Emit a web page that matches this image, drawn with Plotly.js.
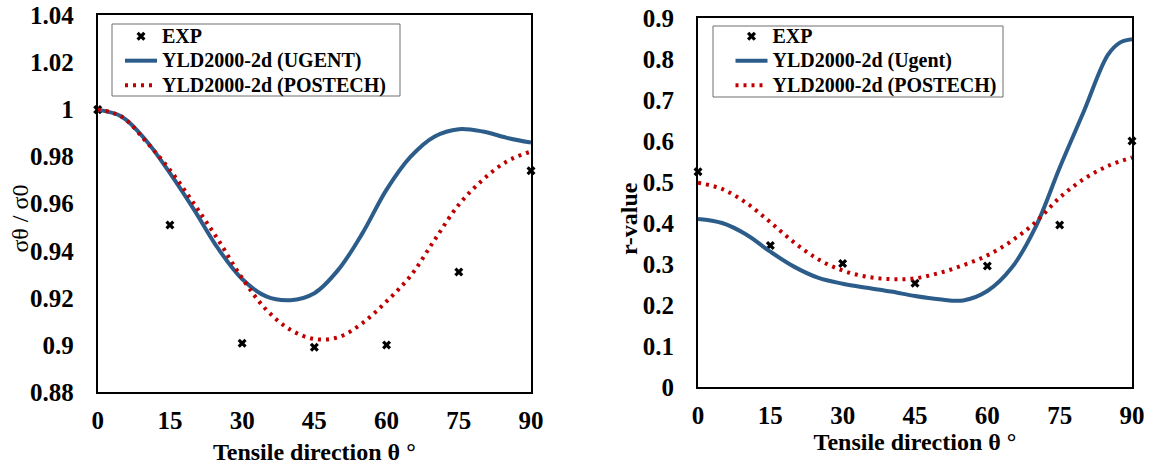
<!DOCTYPE html>
<html>
<head>
<meta charset="utf-8">
<script src="https://cdn.plot.ly/plotly-3.0.1.min.js"></script>
<style>html,body{margin:0;padding:0;background:#fff;}#chart{width:1150px;height:466px;}</style>
</head>
<body>
<div id="chart"></div>
<script>
// ---- data ----
const expAngles = [0, 15, 30, 45, 60, 75, 90];
const curveAngles = [0, 5, 10, 15, 20, 25, 30, 35, 40, 45, 50, 55, 60, 65, 70, 75, 80, 85, 90];
const rUgentAngles = [0, 5, 10, 15, 20, 25, 30, 35, 40, 45, 50, 55, 60, 65, 70, 75, 80, 85, 87.5, 90];

// Left: normalized yield stress
const stressExp = [1.000, 0.951, 0.9007, 0.899, 0.900, 0.931, 0.974];
const stressUgent = [1.000, 0.997, 0.987, 0.973, 0.9575, 0.941, 0.928, 0.9206, 0.919, 0.922, 0.932, 0.9475, 0.966, 0.980, 0.9886, 0.9917, 0.9907, 0.988, 0.986];
const stressPostech = [1.000, 0.997, 0.9865, 0.9744, 0.960, 0.9447, 0.9284, 0.915, 0.9065, 0.9025, 0.9033, 0.9093, 0.9185, 0.9294, 0.9447, 0.9596, 0.9702, 0.978, 0.9822];

// Right: r-value
const rExp = [0.525, 0.345, 0.301, 0.253, 0.295, 0.395, 0.600];
const rUgent = [0.410, 0.400, 0.372, 0.330, 0.293, 0.266, 0.252, 0.242, 0.233, 0.222, 0.214, 0.211, 0.234, 0.290, 0.390, 0.535, 0.672, 0.810, 0.840, 0.848];
const rPostech = [0.498, 0.483, 0.449, 0.402, 0.352, 0.311, 0.284, 0.269, 0.263, 0.265, 0.278, 0.297, 0.321, 0.356, 0.402, 0.462, 0.507, 0.539, 0.560];

// ticks
const xTickVals = [0, 15, 30, 45, 60, 75, 90];
const xTickText = ['0', '15', '30', '45', '60', '75', '90'];
const stressTickVals = [0.88, 0.90, 0.92, 0.94, 0.96, 0.98, 1.00, 1.02, 1.04];
const stressTickText = ['0.88', '0.9', '0.92', '0.94', '0.96', '0.98', '1', '1.02', '1.04'];
const rTickVals = [0, 0.1, 0.2, 0.3, 0.4, 0.5, 0.6, 0.7, 0.8, 0.9];
const rTickText = ['0', '0.1', '0.2', '0.3', '0.4', '0.5', '0.6', '0.7', '0.8', '0.9'];

const leftNames = ['EXP', 'YLD2000-2d (UGENT)', 'YLD2000-2d (POSTECH)'];
const rightNames = ['EXP', 'YLD2000-2d (Ugent)', 'YLD2000-2d (POSTECH)'];

// ---- styles ----
const FONT = 'Liberation Serif, Times New Roman, serif';
const BLUE = '#2C5C8A';
const RED = '#C00000';
const DOTS = '3px,5px';
const tickFont = {family: FONT, size: 25, color: '#000', weight: 'bold'};
const titleFont = {family: FONT, size: 24, color: '#000', weight: 'bold'};

function legName(s) { return '<span style="font-size:20px">' + s + '</span>'; }

function expTrace(x, y, name, xa, ya, leg) {
  return {x: x, y: y, name: legName(name), type: 'scatter', mode: 'markers', xaxis: xa, yaxis: ya, legend: leg,
    cliponaxis: false, marker: {symbol: 'x', size: 8, color: '#000'}};
}
function lineTrace(x, y, name, xa, ya, leg, color, dash) {
  return {x: x, y: y, name: legName(name), type: 'scatter', mode: 'lines', xaxis: xa, yaxis: ya, legend: leg,
    cliponaxis: false, line: {color: color, width: 4, dash: dash, shape: 'spline', smoothing: 1}};
}

const traces = [
  expTrace(expAngles, stressExp, leftNames[0], 'x', 'y', 'legend'),
  lineTrace(curveAngles, stressUgent, leftNames[1], 'x', 'y', 'legend', BLUE, 'solid'),
  lineTrace(curveAngles, stressPostech, leftNames[2], 'x', 'y', 'legend', RED, DOTS),
  expTrace(expAngles, rExp, rightNames[0], 'x2', 'y2', 'legend2'),
  lineTrace(rUgentAngles, rUgent, rightNames[1], 'x2', 'y2', 'legend2', BLUE, 'solid'),
  lineTrace(curveAngles, rPostech, rightNames[2], 'x2', 'y2', 'legend2', RED, DOTS)
];

function xAxis(domain, anchor, standoff) {
  return {domain: domain, anchor: anchor, range: [0, 90], tickmode: 'array', tickvals: xTickVals, ticktext: xTickText,
    showline: true, linecolor: '#000', linewidth: 2, mirror: true, showgrid: false, zeroline: false,
    ticks: '', ticklabelstandoff: 5, tickfont: tickFont,
    title: {text: 'Tensile direction θ °', font: titleFont, standoff: standoff}};
}
function yAxis(domain, anchor, range, vals, text) {
  return {domain: domain, anchor: anchor, range: range, tickmode: 'array', tickvals: vals, ticktext: text,
    showline: true, linecolor: '#000', linewidth: 2, mirror: true, showgrid: false, zeroline: false,
    ticks: '', ticklabelstandoff: 17, tickfont: tickFont};
}

const legendBase = {xanchor: 'left', yanchor: 'top', bgcolor: 'rgba(0,0,0,0)', borderwidth: 0,
  font: {family: FONT, size: 16.5, color: '#000', weight: 'bold'}, traceorder: 'normal', itemwidth: 32, tracegroupgap: 0};

const W = 1150, H = 466;
const legendBox = (x0, x1, y0, y1) => ({type: 'rect', xref: 'paper', yref: 'paper', layer: 'above',
  x0: x0 / W, x1: x1 / W, y0: 1 - y1 / H, y1: 1 - y0 / H, fillcolor: '#fff', line: {color: '#6f6f6f', width: 1}});

const layout = {
  width: W, height: H,
  margin: {l: 0, r: 0, t: 0, b: 0},
  paper_bgcolor: '#fff', plot_bgcolor: '#fff',
  showlegend: true,
  xaxis: xAxis([0.08496, 0.46174], 'y', 10),
  yaxis: yAxis([0.15880, 0.96674], 'x', [0.88, 1.04], stressTickVals, stressTickText),
  xaxis2: xAxis([0.60696, 0.98435], 'y2', 3),
  yaxis2: yAxis([0.16953, 0.96137], 'x2', [0, 0.9], rTickVals, rTickText),
  legend: Object.assign({}, legendBase, {x: 120 / W, y: 1 - 19 / H}),
  legend2: Object.assign({}, legendBase, {x: 730.5 / W, y: 1 - 19 / H}),
  shapes: [legendBox(112, 400, 24, 96), legendBox(713, 1003, 26, 97)],
  annotations: [
    {text: 'σθ / σ0', xref: 'paper', yref: 'paper', x: 0.01704, y: 0.530, xanchor: 'center', yanchor: 'middle',
     textangle: -90, showarrow: false, font: {family: FONT, size: 24, color: '#000'}},
    {text: 'r-value', xref: 'paper', yref: 'paper', x: 0.54696, y: 0.530, xanchor: 'center', yanchor: 'middle',
     textangle: -90, showarrow: false, font: titleFont}
  ]
};

Plotly.newPlot('chart', traces, layout, {staticPlot: true, displayModeBar: false});
</script>
</body>
</html>
